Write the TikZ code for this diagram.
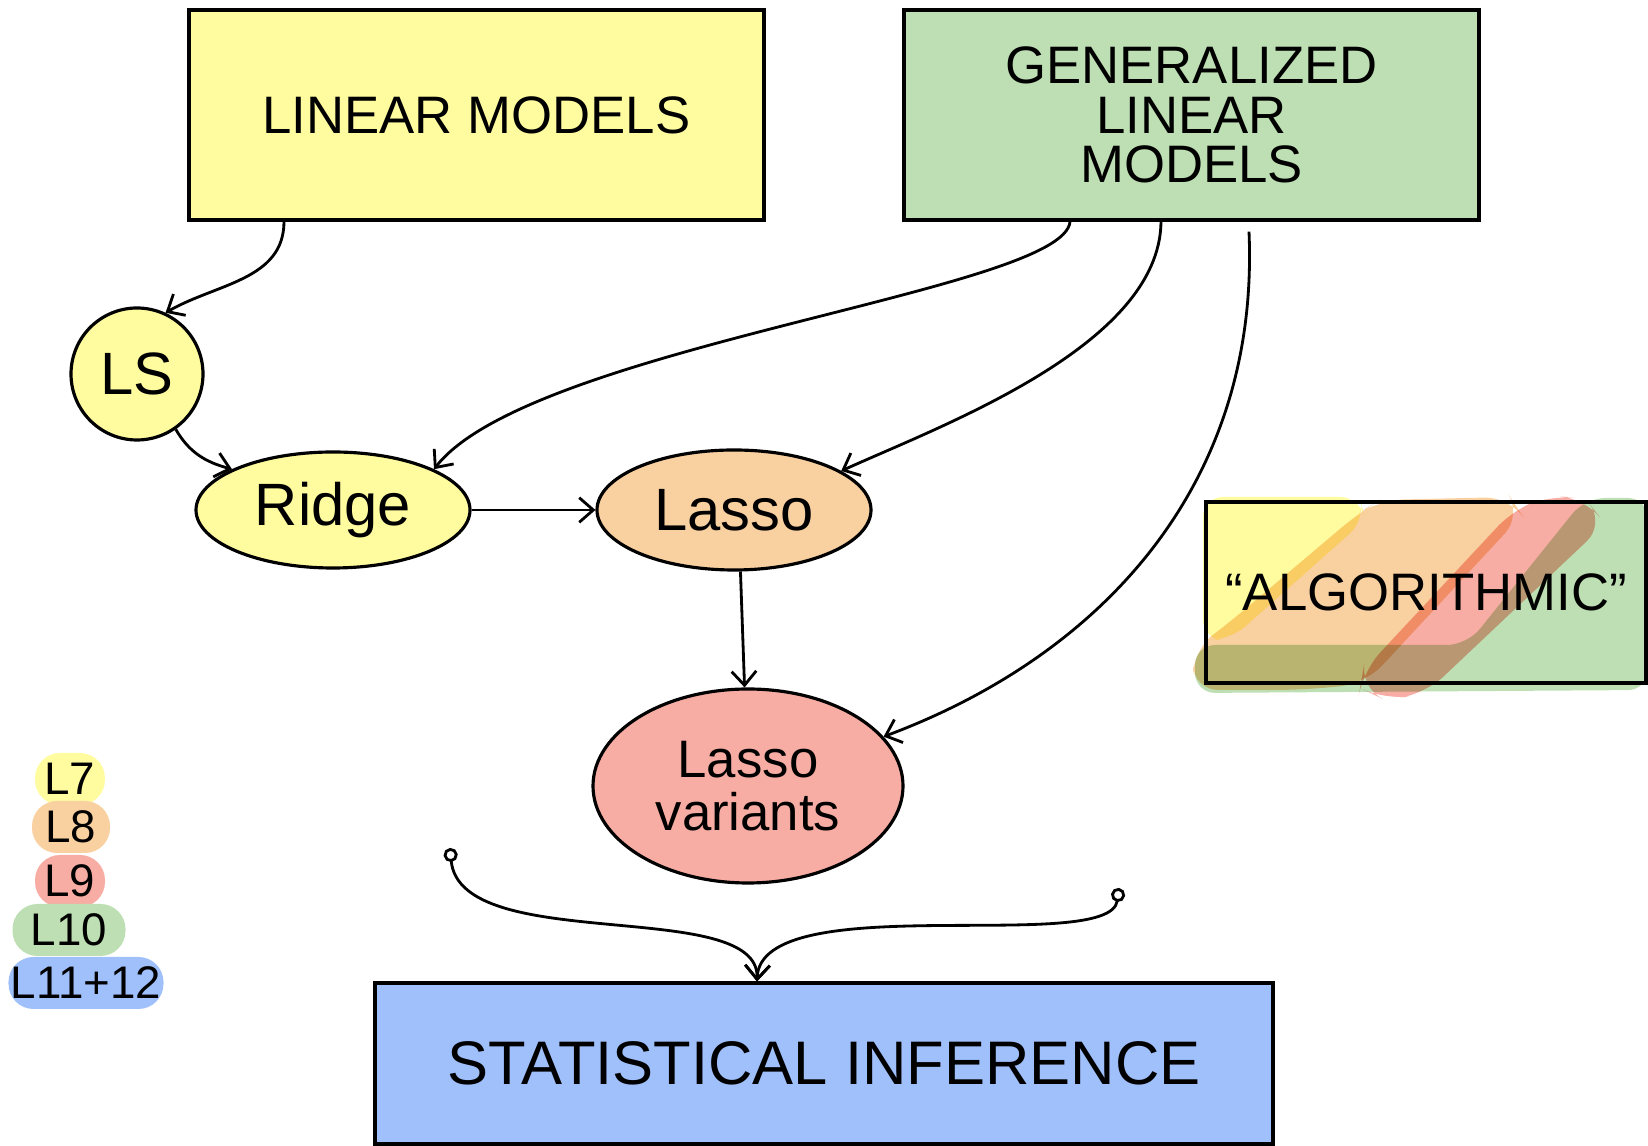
\documentclass[tikz,border=0pt]{standalone}
\usepackage{fontspec}
\setmainfont{Liberation Sans}
\usepackage{tikz}
\usetikzlibrary{arrows.meta, calc, shapes.geometric}

\definecolor{hlyellow}{HTML}{FFFCA0}
\definecolor{hlgreen}{HTML}{BEDFB3}
\definecolor{hlorange}{HTML}{F9D0A0}
\definecolor{hlred}{HTML}{F7ADA3}
\definecolor{hlblue}{HTML}{A0C0FC}

\begin{document}
\begin{tikzpicture}[
		box/.style={draw, line width=0.9pt, minimum width=5.75cm, minimum height=2.1cm,
			align=center, font=\fontsize{15}{14}\selectfont},
		blob/.style={draw, ellipse, line width=0.9pt, font=\fontsize{17}{17}\selectfont},
		legend/.style={rounded corners=0.25cm, inner sep=0pt, minimum height=0.52cm,
			font=\fontsize{13}{13}\selectfont},
		arr/.style={-{Straight Barb[length=4pt,width=7pt]}, line width=0.8pt},
		lead/.style={{Circle[open,length=4pt]}-{Straight Barb[length=4pt,width=7pt]}, line width=0.8pt}
	]
		\useasboundingbox (0,0) rectangle (16.48,11.46);

		% highlighter marks behind the algorithmic box
		\fill[hlgreen, rounded corners=0.2cm] (11.95,4.53) -- (11.95,5.01) -- (14.67,5.01) -- (15.85,6.48)
			-- (16.48,6.48) -- (16.48,4.56) -- cycle;
		\fill[hlyellow, rounded corners=0.2cm] (12.03,6.49) -- (13.60,6.49) -- (13.65,6.26)
			-- (12.30,5.06) -- (12.03,5.06) -- cycle;
		\begin{scope}[blend mode=multiply]
			\fill[hlorange, rounded corners=0.25cm] (11.93,4.56) -- (11.93,4.96) -- (12.30,5.24) -- (13.60,6.34)
				-- (13.80,6.46) -- (15.10,6.49) -- (15.22,6.31) -- (13.65,4.62) -- (13.00,4.56) -- cycle;
			\fill[hlred, rounded corners=0.25cm] (15.15,6.38) -- (15.50,6.50) -- (15.85,6.48) -- (16.05,6.22)
				-- (14.25,4.52) -- (13.85,4.46) -- (13.60,4.58) -- (13.63,4.75) -- cycle;
		\end{scope}

		\node[box, fill=hlyellow] (lm) at (4.765,10.31) {LINEAR MODELS};
		\node[box, fill=hlgreen] (glm) at (11.915,10.31) {GENERALIZED\\LINEAR\\MODELS};
		\node[box, minimum width=4.4cm, minimum height=1.81cm] (algo) at (14.26,5.535) {“ALGORITHMIC”};
		\node[box, fill=hlblue, minimum width=8.98cm, minimum height=1.61cm,
			font=\fontsize{17.5}{17}\selectfont] (si) at (8.24,0.825) {STATISTICAL INFERENCE};

		\node[blob, circle, fill=hlyellow, minimum size=1.32cm, inner sep=0pt] (ls) at (1.37,7.72) {LS};
		\node[blob, fill=hlyellow, minimum width=2.74cm, minimum height=1.16cm] (ridge) at (3.33,6.36) {Ridge};
		\node[blob, fill=hlorange, minimum width=2.74cm, minimum height=1.2cm] (lasso) at (7.34,6.36) {Lasso};
		\node[blob, fill=hlred, minimum width=3.1cm, minimum height=1.94cm, inner sep=0pt, align=center,
			font=\fontsize{15}{15}\selectfont] (lvar) at (7.48,3.60) {Lasso\\variants};

		\node[legend, fill=hlyellow, minimum width=0.70cm] (l7) at (0.70,3.67) {L7};
		\node[legend, fill=hlorange, minimum width=0.78cm] (l8) at (0.71,3.19) {L8};
		\node[legend, fill=hlred, minimum width=0.70cm] (l9) at (0.70,2.65) {L9};
		\node[legend, fill=hlgreen, minimum width=1.13cm] (l10) at (0.69,2.16) {L10};
		\node[legend, fill=hlblue, minimum width=1.55cm] (l11) at (0.86,1.63) {L11+12};

		\draw[arr] ([xshift=-1.925cm]lm.south) to[out=-90, in=30] (ls.65);
		\draw[arr] (ls.-55) to[out=-60, in=165] (ridge.158);
		\draw[arr] (ridge.east) -- (lasso.west);
		\draw[arr] ([xshift=-1.215cm]glm.south) .. controls (10.65,8.55) and (5.3,8.0) .. (ridge.22);
		\draw[arr] ([xshift=-0.305cm]glm.south) .. controls (11.6,8.0) and (9.4,7.2) .. (lasso.20);
		\draw[arr] ([xshift=0.575cm,yshift=-0.1cm]glm.south) .. controls (12.6,6.6) and (11.0,4.9) .. (lvar.20);
		\draw[arr] (lasso.-84) -- (lvar.92);

		\coordinate (qa) at (4.50,2.98);
		\coordinate (qb) at (11.19,2.58);
		\draw[lead] (qa) .. controls (4.6,1.9) and (7.6,2.5) .. ([xshift=-0.67cm]si.north);
		\draw[lead] (qb) .. controls (11.1,1.9) and (7.6,2.6) .. ([xshift=-0.67cm]si.north);
	\end{tikzpicture}
\end{document}
